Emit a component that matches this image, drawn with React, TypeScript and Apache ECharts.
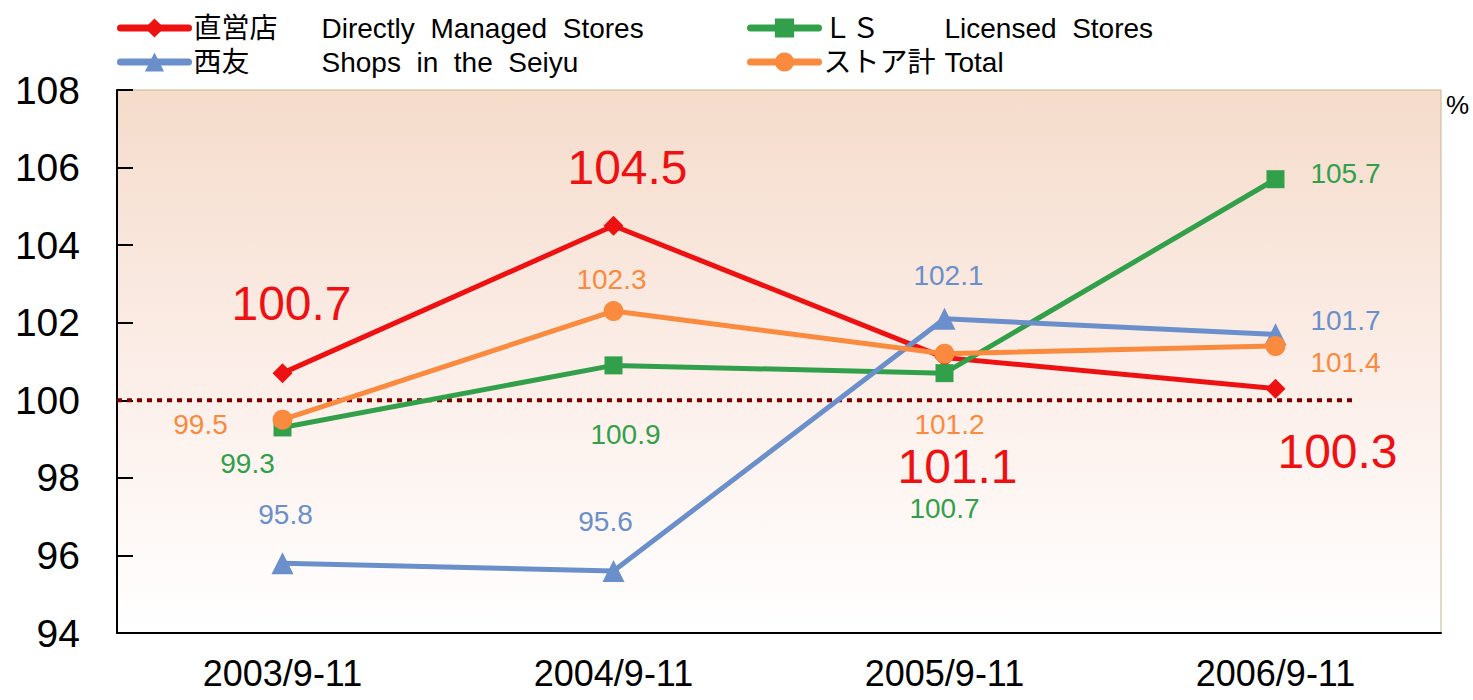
import React, { useEffect, useRef } from "react";
import * as echarts from "echarts";

const categories = ["2003/9-11", "2004/9-11", "2005/9-11", "2006/9-11"];
const yTicks = [94, 96, 98, 100, 102, 104, 106, 108];
const directStores = [100.7, 104.5, 101.1, 100.3];
const licensedStores = [99.3, 100.9, 100.7, 105.7];
const seiyuShops = [95.8, 95.6, 102.1, 101.7];
const totalStores = [99.5, 102.3, 101.2, 101.4];
const baseline = 100;

const englishNames: Record<string, string> = {
  "直営店": "Directly  Managed  Stores",
  "西友": "Shops  in  the  Seiyu",
  "ＬＳ": "Licensed  Stores",
  "ストア計": "Total",
};

const FONT = "'Liberation Sans', Arial, 'Noto Sans CJK JP', sans-serif";

export default function App() {
  const ref = useRef<HTMLDivElement>(null);
  useEffect(() => {
    if (!ref.current) return;
    const chart = echarts.init(ref.current, undefined, { renderer: "svg" });

    const mkData = (vals: number[], offsets: number[][]) =>
      vals.map((v, i) => ({ value: v, label: { offset: offsets[i] } }));

    const rich = (w: number) => ({
      a: { width: w, fontSize: 28, fontFamily: FONT, color: "#000", lineHeight: 30 },
      b: { fontSize: 28, fontFamily: FONT, color: "#000", lineHeight: 30 },
    });

    const legendBase = {
      orient: "vertical",
      top: 9,
      itemGap: 6,
      itemWidth: 68,
      itemHeight: 24,
      lineStyle: { width: 7, cap: "round" },
      formatter: (n: string) => `{a|${n}}{b|${englishNames[n]}}`,
    };

    chart.setOption({
      animation: false,
      textStyle: { fontFamily: FONT },
      legend: [
        { ...legendBase, data: ["直営店", "西友"], left: 112, textStyle: { rich: rich(128) } },
        { ...legendBase, data: ["ＬＳ", "ストア計"], left: 742, textStyle: { rich: rich(121) } },
      ],
      grid: {
        left: 117,
        right: 32,
        top: 90,
        bottom: 67,
        outerBoundsMode: "none",
        containLabel: false,
        show: true,
        borderColor: "#c8b490",
        borderWidth: 1,
        backgroundColor: new echarts.graphic.LinearGradient(0, 0, 0, 1, [
          { offset: 0, color: "#f5dccb" },
          { offset: 0.55, color: "#fcefea" },
          { offset: 1, color: "#ffffff" },
        ]),
      },
      xAxis: [
        {
          type: "category",
          data: categories,
          boundaryGap: true,
          axisLine: { lineStyle: { color: "#000", width: 2 } },
          axisTick: { inside: true, length: 14, lineStyle: { color: "#000", width: 2 } },
          axisLabel: { fontSize: 36, color: "#000", margin: 22, interval: 0, fontFamily: FONT },
          splitLine: { show: false },
        },
        {
          type: "value",
          min: 0,
          max: 1,
          show: false,
        },
      ],
      yAxis: {
        type: "value",
        min: yTicks[0],
        max: yTicks[yTicks.length - 1],
        interval: 2,
        axisLine: { show: true, lineStyle: { color: "#000", width: 2 } },
        axisTick: { show: true, inside: true, length: 16, lineStyle: { color: "#000", width: 2 } },
        axisLabel: { fontSize: 39, color: "#000", margin: 37, fontFamily: FONT },
        splitLine: { show: false },
      },
      graphic: [
        {
          type: "text",
          left: 1446,
          top: 92,
          style: { text: "%", fontSize: 26, fill: "#000", fontFamily: FONT },
        },
      ],
      series: [
        {
          name: "baseline",
          type: "line",
          xAxisIndex: 1,
          yAxisIndex: 0,
          data: [
            [0, baseline],
            [0.935, baseline],
          ],
          symbol: "none",
          silent: true,
          lineStyle: { color: "#7f0000", width: 4, type: [5, 5] },
          z: 1,
        },
        {
          name: "直営店",
          type: "line",
          data: mkData(directStores, [[9, -70], [14, -58], [13, 109], [62, 63]]),
          color: "#ee1111",
          symbol: "diamond",
          symbolSize: 20,
          lineStyle: { width: 5 },
          label: { show: true, position: "inside", fontSize: 48, color: "#ee1111" },
          z: 3,
        },
        {
          name: "ＬＳ",
          type: "line",
          data: mkData(licensedStores, [[-35, 36], [12, 69], [0, 135], [70, -6]]),
          color: "#32a04a",
          symbol: "rect",
          symbolSize: 18,
          lineStyle: { width: 5 },
          label: { show: true, position: "inside", fontSize: 28, color: "#32a04a" },
          z: 4,
        },
        {
          name: "西友",
          type: "line",
          data: mkData(seiyuShops, [[3, -49], [-8, -49], [4, -43], [70, -14]]),
          color: "#6a8fca",
          symbol: "triangle",
          symbolSize: 22,
          lineStyle: { width: 5 },
          label: { show: true, position: "inside", fontSize: 28, color: "#6a8fca" },
          z: 5,
        },
        {
          name: "ストア計",
          type: "line",
          data: mkData(totalStores, [[-82, 5], [-2, -32], [5, 71], [70, 17]]),
          color: "#f98a3e",
          symbol: "circle",
          symbolSize: 20,
          lineStyle: { width: 5 },
          label: { show: true, position: "inside", fontSize: 28, color: "#f98a3e" },
          z: 6,
        },
      ],
    });
    return () => chart.dispose();
  }, []);
  return <div ref={ref} style={{ width: 1473, height: 700, position: "absolute", left: 0, top: 0 }} />;
}
